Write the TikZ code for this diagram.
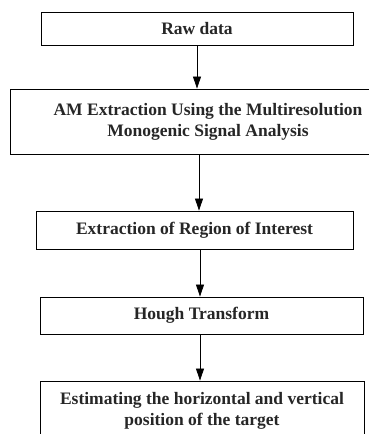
\documentclass[tikz,border=0pt]{standalone}
\usepackage{fontspec}
\setmainfont{Liberation Serif}
\usetikzlibrary{arrows.meta}
\tikzset{
  stepbox/.style={draw=black, line width=0.9pt, inner sep=0pt, align=center,
    font=\bfseries\fontsize{17.5}{21}\selectfont, text=black!85},
  arr/.style={-{Triangle[length=12pt,width=8pt]}, line width=0.8pt}
}
\begin{document}
\begin{tikzpicture}[x=1pt,y=1pt]
\useasboundingbox (0,0) rectangle (369,434);
\clip (0,0) rectangle (369,434);
\node[stepbox, minimum width=312, minimum height=33] (b1) at (197,405.5) {Raw data};
\node[stepbox, minimum width=396, minimum height=65] (b2) at (208,312.5)
  {AM Extraction Using the Multiresolution\\Monogenic Signal Analysis};
\node[stepbox, minimum width=317, minimum height=38] (b3) at (194.5,204)
  {Extraction of Region of Interest};
\node[stepbox, minimum width=323, minimum height=37] (b4) at (201.5,118.5)
  {Hough Transform};
\node[stepbox, minimum width=324, minimum height=60] (b5) at (202,23)
  {Estimating the horizontal and vertical\\position of the target};
\coordinate (a1) at (197,0);
\coordinate (a2) at (199,0);
\coordinate (a3) at (200,0);
\coordinate (a4) at (200,0);
\draw[arr] (b1.south -| a1) -- (b2.north -| a1);
\draw[arr] (b2.south -| a2) -- (b3.north -| a2);
\draw[arr] (b3.south -| a3) -- (b4.north -| a3);
\draw[arr] (b4.south -| a4) -- (b5.north -| a4);
\end{tikzpicture}
\end{document}
